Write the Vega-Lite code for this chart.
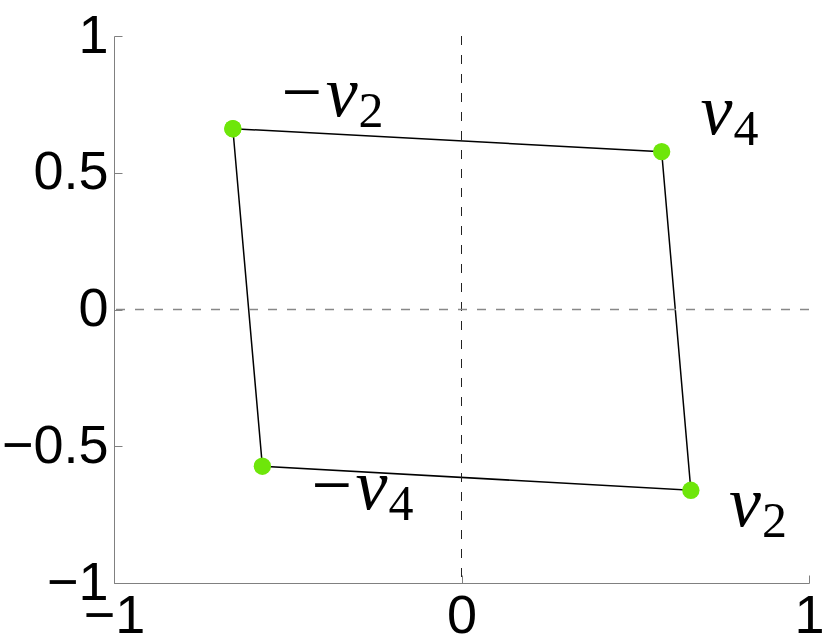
{
  "$schema": "https://vega.github.io/schema/vega-lite/v6.json",
  "width": 695,
  "height": 547,
  "autosize": {"type": "none"},
  "padding": {"left": 114, "top": 36, "right": 21, "bottom": 59},
  "background": "white",
  "config": {
    "view": {"stroke": null},
    "axis": {
      "domainColor": "#808080",
      "domainWidth": 1,
      "tickColor": "#808080",
      "tickWidth": 1,
      "tickSize": -8,
      "grid": false,
      "labelFont": "Liberation Sans",
      "labelFontSize": 54,
      "labelColor": "black",
      "labelPadding": 14,
      "labelFlush": false,
      "labelOverlap": false,
      "format": "~g",
      "title": null
    }
  },
  "datasets": {
    "verts": [
      {"name": "-v2", "x": -0.658, "y": 0.661, "order": 1},
      {"name": "v4", "x": 0.576, "y": 0.577, "order": 2},
      {"name": "v2", "x": 0.66, "y": -0.661, "order": 3},
      {"name": "-v4", "x": -0.573, "y": -0.573, "order": 4},
      {"name": "-v2", "x": -0.658, "y": 0.661, "order": 5}
    ],
    "labels": [
      {"main": "−v", "sub": "2", "x": -0.299, "y": 0.706},
      {"main": "v", "sub": "4", "x": 0.78, "y": 0.64},
      {"main": "−v", "sub": "4", "x": -0.213, "y": -0.731},
      {"main": "v", "sub": "2", "x": 0.862, "y": -0.793}
    ]
  },
  "layer": [
    {
      "data": {"name": "verts"},
      "mark": {"type": "line", "color": "black", "strokeWidth": 1.5},
      "encoding": {
        "x": {"field": "x", "type": "quantitative", "scale": {"domain": [-1, 1], "nice": false, "zero": false},
              "axis": {"values": [-1, 0, 1], "orient": "bottom", "format": "~g", "labelFlush": false}},
        "y": {"field": "y", "type": "quantitative", "scale": {"domain": [-1, 1], "nice": false, "zero": false},
              "axis": {"values": [-1, -0.5, 0, 0.5, 1], "orient": "left", "format": "~g", "labelFlush": false}},
        "order": {"field": "order", "type": "quantitative"}
      }
    },
    {
      "data": {"values": [{"v": 0}]},
      "mark": {"type": "rule", "color": "#222222", "strokeWidth": 1, "strokeDash": [9, 10]},
      "encoding": {
        "x": {"field": "v", "type": "quantitative", "axis": {"values": [-1, 0, 1], "orient": "bottom", "format": "~g", "labelFlush": false}}
      }
    },
    {
      "data": {"values": [{"v": 0}]},
      "mark": {"type": "rule", "color": "#888888", "strokeWidth": 1.5, "strokeDash": [9, 10]},
      "encoding": {
        "y": {"field": "v", "type": "quantitative", "axis": {"values": [-1, -0.5, 0, 0.5, 1], "orient": "left", "format": "~g", "labelFlush": false}}
      }
    },
    {
      "data": {"name": "verts"},
      "mark": {"type": "point", "filled": true, "color": "#6EE60A", "opacity": 1, "size": 300, "shape": "circle"},
      "encoding": {
        "x": {"field": "x", "type": "quantitative", "axis": {"values": [-1, 0, 1], "orient": "bottom", "format": "~g", "labelFlush": false}},
        "y": {"field": "y", "type": "quantitative", "axis": {"values": [-1, -0.5, 0, 0.5, 1], "orient": "left", "format": "~g", "labelFlush": false}}
      }
    },
    {
      "data": {"name": "labels"},
      "mark": {"type": "text", "font": "Liberation Serif", "fontStyle": "italic", "fontSize": 72, "align": "right", "baseline": "alphabetic", "color": "black"},
      "encoding": {
        "x": {"field": "x", "type": "quantitative", "axis": {"values": [-1, 0, 1], "orient": "bottom", "format": "~g", "labelFlush": false}},
        "y": {"field": "y", "type": "quantitative", "axis": {"values": [-1, -0.5, 0, 0.5, 1], "orient": "left", "format": "~g", "labelFlush": false}},
        "text": {"field": "main"}
      }
    },
    {
      "data": {"name": "labels"},
      "mark": {"type": "text", "font": "Liberation Serif", "fontSize": 50, "align": "left", "baseline": "alphabetic", "dx": 1, "dy": 11, "color": "black"},
      "encoding": {
        "x": {"field": "x", "type": "quantitative", "axis": {"values": [-1, 0, 1], "orient": "bottom", "format": "~g", "labelFlush": false}},
        "y": {"field": "y", "type": "quantitative", "axis": {"values": [-1, -0.5, 0, 0.5, 1], "orient": "left", "format": "~g", "labelFlush": false}},
        "text": {"field": "sub"}
      }
    }
  ]
}
